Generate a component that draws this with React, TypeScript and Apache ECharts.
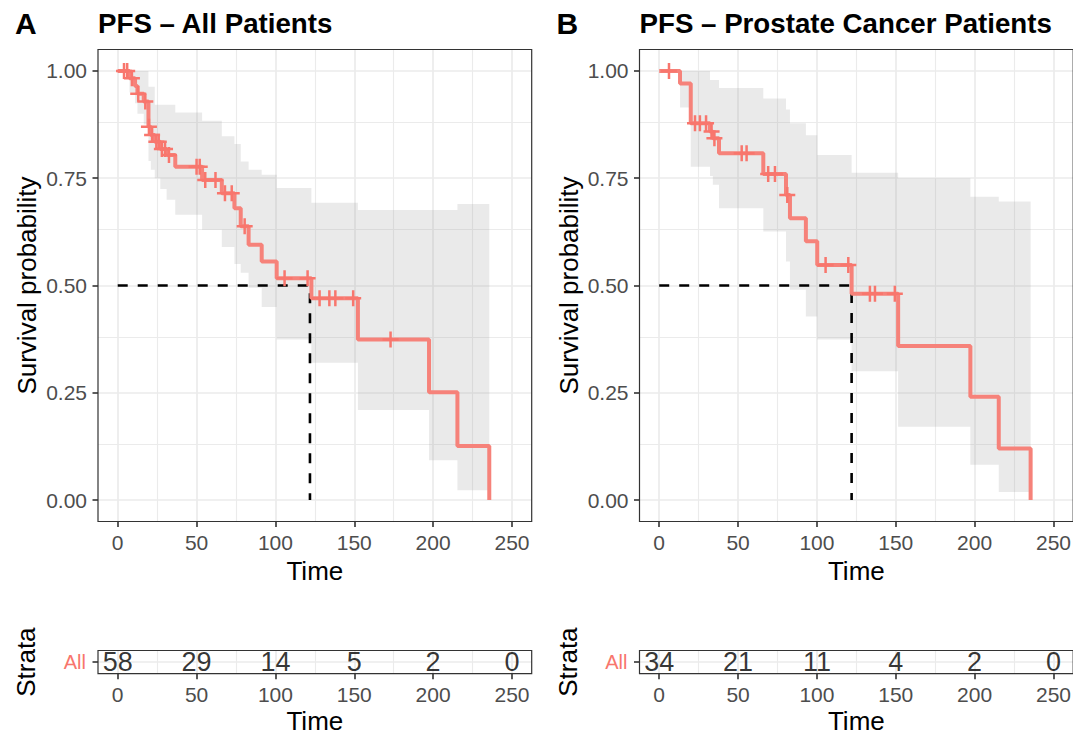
import React, { useEffect, useRef } from 'react';
import * as echarts from 'echarts';

// ---------- data ----------
const A_TIME = [0, 7.5, 11, 12.5, 16.5, 19.5, 21, 23.5, 27, 31, 36.5, 53.5, 66, 74, 78, 83, 91.3, 100.8, 122.8, 152.3, 197.4, 215.4, 235.6];
const A_SURV = [1, 0.983, 0.965, 0.947, 0.929, 0.87, 0.851, 0.835, 0.818, 0.804, 0.777, 0.746, 0.715, 0.68, 0.638, 0.595, 0.556, 0.517, 0.47, 0.374, 0.251, 0.126, 0];
const A_UPPER = [1, 1, 1, 1, 1, 0.963, 0.963, 0.921, 0.921, 0.921, 0.903, 0.884, 0.848, 0.83, 0.789, 0.77, 0.758, 0.727, 0.693, 0.676, 0.676, 0.69, 0];
const A_LOWER = [1, 0.95, 0.925, 0.9, 0.875, 0.79, 0.77, 0.75, 0.725, 0.7, 0.665, 0.63, 0.59, 0.55, 0.53, 0.495, 0.45, 0.374, 0.32, 0.21, 0.093, 0.023, 0];
const A_CENSOR_T = [4, 6, 9, 13, 17.5, 19.8, 21.8, 24.5, 26, 28, 30, 32.5, 50, 52, 55.5, 62, 68, 72.3, 80.5, 105.8, 120.4, 128, 134.2, 138, 149.3, 173];
const A_CENSOR_S = [1, 1, 0.983, 0.947, 0.929, 0.87, 0.851, 0.835, 0.835, 0.818, 0.818, 0.804, 0.777, 0.777, 0.746, 0.746, 0.715, 0.715, 0.638, 0.517, 0.517, 0.47, 0.47, 0.47, 0.47, 0.374];
const A_MEDIAN = 121.9;

const B_TIME = [0, 13.2, 20, 32.2, 34, 37.9, 66, 80.4, 82.9, 93, 100.2, 122, 151.5, 197.3, 215.3, 235.5];
const B_SURV = [1, 0.971, 0.878, 0.859, 0.843, 0.808, 0.76, 0.711, 0.657, 0.603, 0.548, 0.481, 0.359, 0.241, 0.12, 0];
const B_UPPER = [1, 1, 1, 0.979, 0.979, 0.96, 0.936, 0.91, 0.878, 0.85, 0.804, 0.763, 0.75, 0.707, 0.696, 0];
const B_LOWER = [1, 0.915, 0.777, 0.755, 0.735, 0.68, 0.626, 0.556, 0.49, 0.428, 0.374, 0.3, 0.171, 0.082, 0.019, 0];
const B_CENSOR_T = [6.2, 22.7, 25.8, 29.7, 33.2, 35, 52.3, 55.4, 69.1, 73.4, 81.2, 105.5, 119.9, 133.6, 136.8, 149.4];
const B_CENSOR_S = [1, 0.878, 0.878, 0.878, 0.859, 0.843, 0.808, 0.808, 0.76, 0.76, 0.711, 0.548, 0.548, 0.481, 0.481, 0.481];
const B_MEDIAN = 122.0;

const RISK_TIMES = [0, 50, 100, 150, 200, 250];
const A_RISK = [58, 29, 14, 5, 2, 0];
const B_RISK = [34, 21, 11, 4, 2, 0];
const STRATA = ['All'];

const X_MAJOR = [0, 50, 100, 150, 200, 250];
const X_MINOR = [25, 75, 125, 175, 225];
const Y_MAJOR = [0, 0.25, 0.5, 0.75, 1];
const Y_MINOR = [0.125, 0.375, 0.625, 0.875];

const TITLES = ['PFS – All Patients', 'PFS – Prostate Cancer Patients'];
const TAGS = ['A', 'B'];

// ---------- layout ----------
const FONT = '"Liberation Sans", Arial, Helvetica, sans-serif';
const X_RANGE = [-12.5, 262.5];
const X_DATA = [0, 250];
const Y_RANGE = [-0.05, 1.05];
const PANEL_LEFTS = [98, 639.5];
const PANEL_W = 433.7;
const MAIN_TOP = 49.5;
const MAIN_H = 472;
const RISK_TOP = 650.5;
const RISK_H = 23.2;
const COLOR = '#F8766D';
const LINE_COLOR = '#F6827A';
const GRID_COLOR = '#EBEBEB';
const TICK_FONT = 21;
const TITLE_FONT = 26;
const TICK = { length: 5.5, lineStyle: { color: '#333333', width: 1.6 } };
const CROSS = 'path://M-1.25,-8L1.25,-8L1.25,-1.25L8,-1.25L8,1.25L1.25,1.25L1.25,8L-1.25,8L-1.25,1.25L-8,1.25L-8,-1.25L-1.25,-1.25Z';

function gridLineItems(xs: number[], w: number, key: 'xAxis' | 'yAxis') {
  return xs.map((v) => ({ [key]: v, lineStyle: { color: GRID_COLOR, type: 'solid', width: w } }));
}

function buildOption() {
  const grids: any[] = [];
  const xAxes: any[] = [];
  const yAxes: any[] = [];
  const series: any[] = [];
  const graphic: any[] = [];

  const dx = PANEL_W / (X_RANGE[1] - X_RANGE[0]);
  const dy = MAIN_H / (Y_RANGE[1] - Y_RANGE[0]);

  const panels = [
    { T: A_TIME, S: A_SURV, U: A_UPPER, L: A_LOWER, CT: A_CENSOR_T, CS: A_CENSOR_S, M: A_MEDIAN, R: A_RISK },
    { T: B_TIME, S: B_SURV, U: B_UPPER, L: B_LOWER, CT: B_CENSOR_T, CS: B_CENSOR_S, M: B_MEDIAN, R: B_RISK },
  ];

  const hiddenAxis = (gridIndex: number, min: number, max: number) => ({
    type: 'value', gridIndex, min, max, show: false,
    axisLine: { show: false, onZero: false }, axisTick: { show: false }, axisLabel: { show: false }, splitLine: { show: false },
  });

  panels.forEach((p, k) => {
    const left = PANEL_LEFTS[k];
    const dataLeft = left + (X_DATA[0] - X_RANGE[0]) * dx;
    const dataW = (X_DATA[1] - X_DATA[0]) * dx;
    const dataTop = MAIN_TOP + (Y_RANGE[1] - 1) * dy;
    const dataH = dy;
    const xOffset = (0 - Y_RANGE[0]) * dy;
    const yOffset = dataLeft - left;

    const gFrame = grids.length;
    grids.push({ left, top: MAIN_TOP, width: PANEL_W, height: MAIN_H, show: true, borderColor: '#333333', borderWidth: 1.2, backgroundColor: 'transparent', z: 10, outerBoundsMode: 'none', containLabel: false });
    xAxes.push(hiddenAxis(gFrame, X_RANGE[0], X_RANGE[1]));
    yAxes.push(hiddenAxis(gFrame, Y_RANGE[0], Y_RANGE[1]));

    const gData = grids.length;
    grids.push({ left: dataLeft, top: dataTop, width: dataW, height: dataH, show: false, outerBoundsMode: 'none', containLabel: false });
    xAxes.push({
      type: 'value', gridIndex: gData, min: X_DATA[0], max: X_DATA[1], interval: 50, offset: xOffset, position: 'bottom',
      axisLine: { show: false, onZero: false }, axisTick: { show: true, ...TICK }, splitLine: { show: false },
      axisLabel: { color: '#4D4D4D', fontSize: TICK_FONT, margin: 10, fontFamily: FONT },
      name: 'Time', nameLocation: 'middle', nameGap: 36,
      nameTextStyle: { fontSize: TITLE_FONT, color: '#000000', fontFamily: FONT },
    });
    yAxes.push({
      type: 'value', gridIndex: gData, min: 0, max: 1, interval: 0.25, offset: yOffset, position: 'left',
      axisLine: { show: false, onZero: false }, axisTick: { show: true, ...TICK }, splitLine: { show: false },
      axisLabel: { color: '#4D4D4D', fontSize: TICK_FONT, margin: 11, fontFamily: FONT, formatter: (v: number) => v.toFixed(2) },
      name: 'Survival probability', nameLocation: 'middle', nameGap: 58,
      nameTextStyle: { fontSize: TITLE_FONT, color: '#000000', fontFamily: FONT },
    });

    // gridlines (drawn below everything else)
    series.push({
      type: 'line', xAxisIndex: gFrame, yAxisIndex: gFrame, data: [], z: 0, silent: true,
      markLine: {
        z: 0, silent: true, symbol: ['none', 'none'], label: { show: false }, animation: false,
        lineStyle: { color: GRID_COLOR, type: 'solid', width: 1.7 },
        data: [
          ...gridLineItems(X_MAJOR, 1.7, 'xAxis'),
          ...gridLineItems(X_MINOR, 1.1, 'xAxis'),
          ...gridLineItems(Y_MAJOR, 1.7, 'yAxis'),
          ...gridLineItems(Y_MINOR, 1.1, 'yAxis'),
        ],
      },
    });

    // confidence ribbon
    series.push({
      type: 'custom', xAxisIndex: gFrame, yAxisIndex: gFrame, z: 2, silent: true,
      data: [[0, 0]],
      renderItem: (_params: any, api: any) => {
        const n = p.T.length;
        const pts: number[][] = [];
        for (let i = 0; i < n - 1; i++) {
          pts.push(api.coord([p.T[i], p.U[i]]));
          pts.push(api.coord([p.T[i + 1], p.U[i]]));
        }
        for (let i = n - 2; i >= 0; i--) {
          pts.push(api.coord([p.T[i + 1], p.L[i]]));
          pts.push(api.coord([p.T[i], p.L[i]]));
        }
        return { type: 'polygon', shape: { points: pts }, style: { fill: 'rgba(150,150,150,0.2)' } };
      },
    });

    // median lines
    series.push({
      type: 'line', xAxisIndex: gFrame, yAxisIndex: gFrame, z: 3, silent: true, symbol: 'none',
      data: [[0, 0.5], [p.M, 0.5], [p.M, 0]],
      lineStyle: { color: '#000000', width: 2.6, type: [10, 10] },
    });

    // KM curve
    series.push({
      type: 'line', xAxisIndex: gFrame, yAxisIndex: gFrame, z: 4, silent: true, symbol: 'none', step: 'end',
      data: p.T.map((t, i) => [t, p.S[i]]),
      lineStyle: { color: LINE_COLOR, width: 4 },
    });

    // censor marks
    series.push({
      type: 'scatter', xAxisIndex: gFrame, yAxisIndex: gFrame, z: 5, silent: true,
      symbol: CROSS, symbolSize: 16,
      data: p.CT.map((t, i) => [t, p.CS[i]]),
      itemStyle: { color: COLOR, opacity: 1 },
    });

    // ----- risk table -----
    const gRiskF = grids.length;
    grids.push({ left, top: RISK_TOP, width: PANEL_W, height: RISK_H, show: true, borderColor: '#333333', borderWidth: 1.2, backgroundColor: 'transparent', z: 10, outerBoundsMode: 'none', containLabel: false });
    xAxes.push(hiddenAxis(gRiskF, X_RANGE[0], X_RANGE[1]));
    yAxes.push({
      type: 'category', gridIndex: gRiskF, data: STRATA, position: 'left',
      axisLine: { show: false, onZero: false }, axisTick: { show: true, alignWithLabel: true, ...TICK }, splitLine: { show: false },
      axisLabel: { color: COLOR, fontSize: 20, margin: 12, fontFamily: FONT },
      name: 'Strata', nameLocation: 'middle', nameGap: 59,
      nameTextStyle: { fontSize: TITLE_FONT, color: '#000000', fontFamily: FONT },
    });

    const gRiskD = grids.length;
    grids.push({ left: dataLeft, top: RISK_TOP, width: dataW, height: RISK_H, show: false, outerBoundsMode: 'none', containLabel: false });
    xAxes.push({
      type: 'value', gridIndex: gRiskD, min: X_DATA[0], max: X_DATA[1], interval: 50, position: 'bottom',
      axisLine: { show: false, onZero: false }, axisTick: { show: true, ...TICK }, splitLine: { show: false },
      axisLabel: { color: '#4D4D4D', fontSize: TICK_FONT, margin: 10, fontFamily: FONT },
      name: 'Time', nameLocation: 'middle', nameGap: 34,
      nameTextStyle: { fontSize: TITLE_FONT, color: '#000000', fontFamily: FONT },
    });
    yAxes.push(hiddenAxis(gRiskD, 0, 1));

    series.push({
      type: 'line', xAxisIndex: gRiskF, yAxisIndex: gRiskF, data: [], z: 0, silent: true,
      markLine: {
        z: 0, silent: true, symbol: ['none', 'none'], label: { show: false }, animation: false,
        lineStyle: { color: GRID_COLOR, type: 'solid', width: 1.7 },
        data: [
          ...gridLineItems(X_MAJOR, 1.7, 'xAxis'),
          ...gridLineItems(X_MINOR, 1.1, 'xAxis'),
          ...STRATA.map((v) => ({ yAxis: v, lineStyle: { color: GRID_COLOR, type: 'solid', width: 1.7 } })),
        ],
      },
    });

    series.push({
      type: 'scatter', xAxisIndex: gRiskF, yAxisIndex: gRiskF, z: 5, silent: true, clip: false,
      symbolSize: 1, itemStyle: { color: 'transparent' },
      data: RISK_TIMES.map((t, i) => [t, 0, p.R[i]]),
      label: {
        show: true, position: 'inside', formatter: (q: any) => String(q.data[2]),
        fontSize: 27, color: '#000000', fontFamily: FONT,
      },
    });

    // titles
    graphic.push({
      type: 'text', x: left - 83, y: 23.5, z: 20,
      style: { text: TAGS[k], fontSize: 30, fontWeight: 'bold', fontFamily: FONT, fill: '#000000', align: 'left', verticalAlign: 'middle' },
    });
    graphic.push({
      type: 'text', x: left, y: 23.5, z: 20,
      style: { text: TITLES[k], fontSize: 27.7, fontWeight: 'bold', fontFamily: FONT, fill: '#000000', align: 'left', verticalAlign: 'middle' },
    });
  });

  return {
    animation: false,
    backgroundColor: '#ffffff',
    textStyle: { fontFamily: FONT },
    grid: grids,
    xAxis: xAxes,
    yAxis: yAxes,
    series,
    graphic,
  };
}

export default function App() {
  const ref = useRef<HTMLDivElement>(null);
  useEffect(() => {
    if (!ref.current) return;
    const chart = echarts.init(ref.current, undefined, { renderer: 'svg' });
    chart.setOption(buildOption() as any);
    return () => chart.dispose();
  }, []);
  return <div ref={ref} style={{ position: 'fixed', left: 0, top: 0, width: 1073, height: 735 }} />;
}
